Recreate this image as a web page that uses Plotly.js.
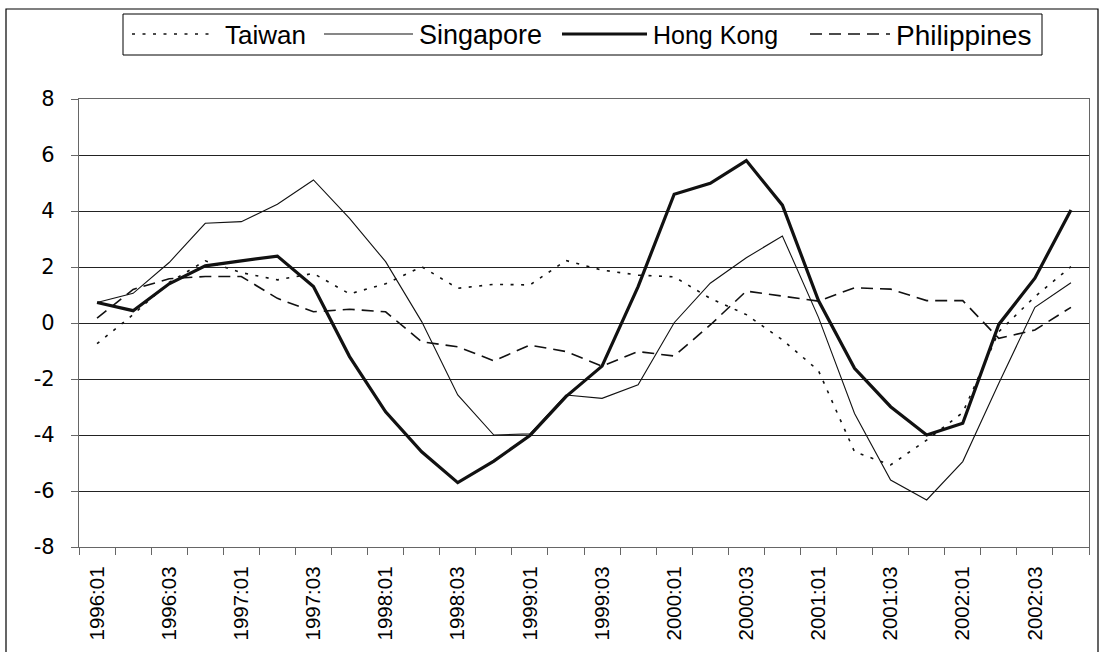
<!DOCTYPE html>
<html>
<head>
<meta charset="utf-8">
<script src="https://cdn.plot.ly/plotly-3.0.1.min.js"></script>
<style>
  html, body { margin: 0; padding: 0; background: #fff; }
  #chart { width: 1101px; height: 652px; }
</style>
</head>
<body>
<div id="chart"></div>
<script>
// ---- Data ----
const quarters = [
  "1996:01","1996:02","1996:03","1996:04",
  "1997:01","1997:02","1997:03","1997:04",
  "1998:01","1998:02","1998:03","1998:04",
  "1999:01","1999:02","1999:03","1999:04",
  "2000:01","2000:02","2000:03","2000:04",
  "2001:01","2001:02","2001:03","2001:04",
  "2002:01","2002:02","2002:03","2002:04"
];
const taiwan = [-0.74, 0.30, 1.45, 2.22, 1.80, 1.54, 1.77, 1.04, 1.40, 2.01, 1.24, 1.38, 1.36, 2.23, 1.89, 1.71, 1.65, 0.88, 0.30, -0.60, -1.70, -4.60, -5.07, -4.18, -3.20, -0.31, 0.94, 2.01];
const singapore = [0.73, 1.06, 2.16, 3.56, 3.62, 4.24, 5.11, 3.74, 2.19, 0.05, -2.57, -4.00, -3.96, -2.57, -2.69, -2.21, 0.01, 1.42, 2.33, 3.11, 0.20, -3.23, -5.61, -6.32, -4.95, -2.15, 0.56, 1.44];
const hongkong = [0.73, 0.44, 1.40, 2.04, 2.22, 2.39, 1.30, -1.20, -3.17, -4.60, -5.70, -4.93, -4.02, -2.63, -1.54, 1.30, 4.60, 4.99, 5.80, 4.21, 0.80, -1.62, -2.99, -4.00, -3.58, -0.05, 1.60, 4.04];
const philippines = [0.17, 1.20, 1.58, 1.66, 1.66, 0.88, 0.40, 0.49, 0.40, -0.67, -0.85, -1.35, -0.79, -1.02, -1.54, -1.02, -1.18, -0.07, 1.14, 0.97, 0.78, 1.26, 1.21, 0.80, 0.80, -0.55, -0.25, 0.56];
const seriesNames = ["Taiwan", "Singapore", "Hong Kong", "Philippines"];
const yTicks = [-8, -6, -4, -2, 0, 2, 4, 6, 8];

// ---- Styles ----
const FONT = 'Arial, "Liberation Sans", sans-serif';
const styles = [
  {color: '#111', width: 1.6, dash: '3px,7.5px'},
  {color: '#111', width: 1.1, dash: 'solid'},
  {color: '#111', width: 3.2, dash: 'solid'},
  {color: '#111', width: 1.6, dash: '12px,7px'}
];
const idx = quarters.map((q, i) => i);
const labelIdx = idx.filter(i => i % 2 === 0);
const labelText = labelIdx.map(i => quarters[i]);

const values = [taiwan, singapore, hongkong, philippines];
const traces = values.map((v, k) => ({
  type: 'scatter', mode: 'lines', name: seriesNames[k],
  x: idx, y: v, line: styles[k], showlegend: false, hoverinfo: 'skip'
}));

// plot area in pixels
const L = 79, R = 1089, T = 99, B = 547;
const W = 1101, H = 652;
const px = x => (x - L) / (R - L);
const py = y => (B - y) / (B - T);

// manual legend (matching reference layout)
const legendItems = [
  {x0: 132, x1: 209, tx: 223, size: 26},
  {x0: 324, x1: 413, tx: 417, size: 27},
  {x0: 562, x1: 647, tx: 651, size: 25},
  {x0: 810, x1: 890, tx: 894, size: 28}
];
const legY = 34;
const shapes = [
  {type: 'rect', xref: 'paper', yref: 'paper', x0: px(6), x1: px(1098), y0: py(9), y1: py(700),
   line: {color: '#000', width: 1.2}, fillcolor: 'rgba(0,0,0,0)'},
  {type: 'rect', xref: 'paper', yref: 'paper', x0: px(123), x1: px(1042), y0: py(14), y1: py(55),
   line: {color: '#000', width: 1}, fillcolor: 'rgba(0,0,0,0)'}
];
const annotations = [];
legendItems.forEach((it, k) => {
  shapes.push({type: 'line', xref: 'paper', yref: 'paper', x0: px(it.x0), x1: px(it.x1), y0: py(legY), y1: py(legY),
    line: {color: styles[k].color, width: styles[k].width, dash: styles[k].dash}});
  annotations.push({xref: 'paper', yref: 'paper', x: px(it.tx), y: py(legY + 1), xanchor: 'left', yanchor: 'middle',
    text: seriesNames[k], showarrow: false, font: {family: FONT, size: it.size, color: '#000'}});
});

const layout = {
  width: W, height: H,
  margin: {l: L, r: W - R, t: T, b: H - B, pad: 0},
  paper_bgcolor: '#fff', plot_bgcolor: '#fff',
  font: {family: FONT, color: '#000'},
  showlegend: false,
  xaxis: {
    type: 'linear', range: [-0.5, quarters.length - 0.5],
    tickmode: 'array', tickvals: labelIdx, ticktext: labelText,
    tickangle: -90, ticks: '', showgrid: false, zeroline: false,
    showline: true, linecolor: '#666', linewidth: 1.2, mirror: true,
    tickfont: {family: FONT, size: 20.5, color: '#000'},
    ticklabelstandoff: 10,
    minor: {ticks: 'outside', tick0: -0.5, dtick: 1, ticklen: 7, tickcolor: '#666', tickwidth: 1, showgrid: false}
  },
  yaxis: {
    range: [-8, 8], tickmode: 'array', tickvals: yTicks, ticktext: yTicks.map(String),
    ticks: 'outside', ticklen: 7, tickcolor: '#666', tickwidth: 1,
    showgrid: true, gridcolor: '#222', gridwidth: 1, zeroline: false,
    showline: true, linecolor: '#666', linewidth: 1.2, mirror: true,
    tickfont: {family: '"DejaVu Sans", Arial, sans-serif', size: 21, color: '#000'},
    ticklabelstandoff: 12
  },
  shapes: shapes,
  annotations: annotations
};

Plotly.newPlot('chart', traces, layout, {displayModeBar: false, staticPlot: true});
</script>
</body>
</html>
